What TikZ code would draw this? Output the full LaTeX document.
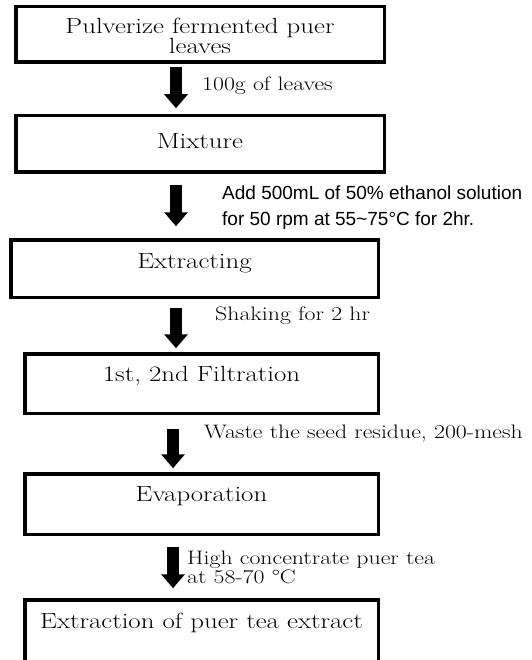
\documentclass[tikz,border=0pt]{standalone}
\usepackage{fontspec}
\newfontfamily\lblsans{Liberation Sans}
\newfontfamily\wideserif{Latin Modern Roman}[FakeStretch=1.22]
\usetikzlibrary{arrows.meta}
\tikzset{
  every picture/.style={line join=miter, >=Stealth},
  stepbox/.style={draw, line width=3.5pt, rectangle, inner sep=0pt},
  boxtxt/.style={anchor=base, align=center, inner sep=0pt, font=\wideserif\fontsize{22}{19}\selectfont},
  note/.style={anchor=base west, align=left, inner sep=0pt, font=\wideserif\fontsize{19.5}{16}\selectfont},
  sansnote/.style={anchor=base west, inner sep=0pt, font=\lblsans\fontsize{19}{18}\selectfont},
  flow/.style={line width=12pt, -{Triangle[width=23pt,length=14pt]}},
}
\begin{document}
\begin{tikzpicture}[x=1pt,y=-1pt]
\useasboundingbox (0,0) rectangle (531,660);
% boxes
\node[stepbox, minimum width=368.5, minimum height=55.5] (b1) at (200,34.5) {};
\node[stepbox, minimum width=368.5, minimum height=56.5] (b2) at (200,144) {};
\node[stepbox, minimum width=367.5, minimum height=57.5] (b3) at (194.5,268.5) {};
\node[stepbox, minimum width=353.5, minimum height=59.5] (b4) at (201.5,383.5) {};
\node[stepbox, minimum width=353.5, minimum height=60.5] (b5) at (201.5,504) {};
\node[stepbox, minimum width=353.5, minimum height=70] (b6) at (201.5,634.75) {};
% box texts
\node[boxtxt] (t1) at ([yshift=-49pt]b1.north) {Pulverize fermented puer\\leaves};
\node[boxtxt] (t2) at ([yshift=-35pt]b2.north) {Mixture};
\node[boxtxt] (t3) at ([yshift=-30pt]b3.north) {Extracting};
\node[boxtxt] (t4) at ([yshift=-29pt]b4.north) {1st, 2nd Filtration};
\node[boxtxt] (t5) at ([yshift=-29pt]b5.north) {Evaporation};
\node[boxtxt] (t6) at ([yshift=-30pt]b6.north) {Extraction of puer tea extract};
% arrows
\coordinate (ax) at (176,0);
\coordinate (bx) at (173,0);
\draw[flow, shorten <=2.75pt, shorten >=5.75pt] (b1.south -| ax) -- (b2.north -| ax);
\draw[flow, shorten <=10.75pt, shorten >=11.75pt] (b2.south -| ax) -- (b3.north -| ax);
\draw[flow, shorten <=8.75pt, shorten >=3.75pt] (b3.south -| ax) -- (b4.north -| ax);
\draw[flow, shorten <=13.75pt, shorten >=3.75pt] (b4.south -| bx) -- (b5.north -| bx);
\draw[flow, shorten <=10.75pt, shorten >=9.75pt] (b5.south -| bx) -- (b6.north -| bx);
% notes
\node[note] (n1) at (202,91) {100g of leaves};
\node[sansnote] (n2a) at (222,200) {Add 500mL of 50\% ethanol solution};
\node[sansnote] (n2b) at (222,225) {for 50 rpm at 55\textasciitilde75°C for 2hr.};
\node[note] (n3) at (215,320) {Shaking for 2 hr};
\node[note] (n4) at (204,438) {Waste the seed residue, 200-mesh};
\node[note] (n5) at (187,583) {High concentrate puer tea\\at 58-70 °C};
\end{tikzpicture}
\end{document}
